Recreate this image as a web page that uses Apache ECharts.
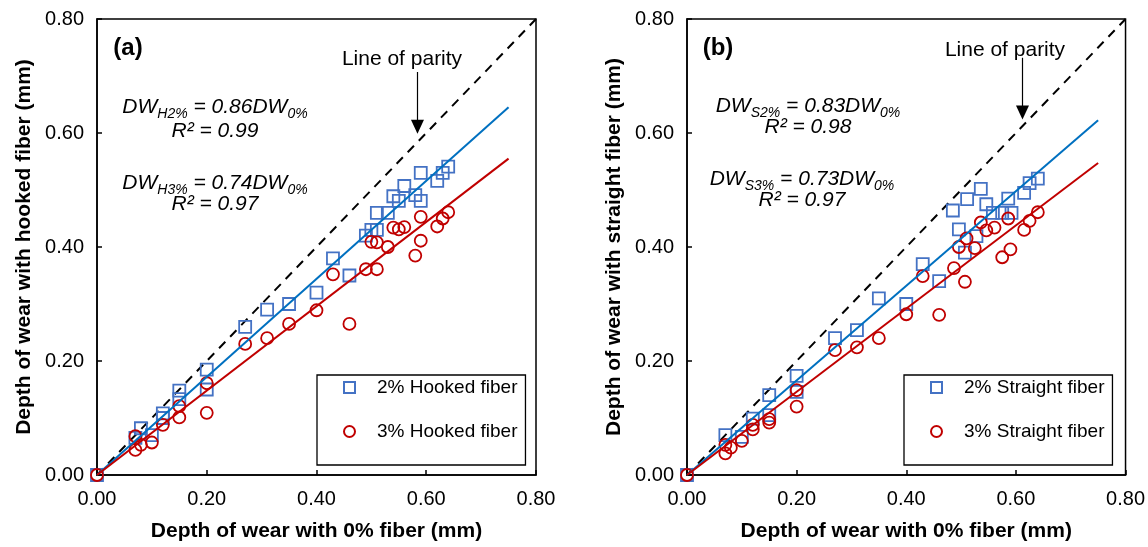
<!DOCTYPE html>
<html>
<head>
<meta charset="utf-8">
<script src="https://cdn.jsdelivr.net/npm/echarts@6/dist/echarts.min.js"></script>
<style>
html,body{margin:0;padding:0;background:#fff;}
#chart{width:1148px;height:547px;}
</style>
</head>
<body>
<div id="chart"></div>
<script>
// ---------- DATA ----------
var axisTicks = [0, 0.2, 0.4, 0.6, 0.8];

// Panel (a): hooked fiber
var hook2X = [0, 0.07, 0.08, 0.10, 0.12, 0.12, 0.15, 0.15, 0.20, 0.20, 0.27, 0.31, 0.35, 0.40, 0.43, 0.46, 0.49, 0.50, 0.51, 0.51, 0.53, 0.54, 0.55, 0.56, 0.58, 0.59, 0.59, 0.62, 0.63, 0.64];
var hook2Y = [0, 0.065, 0.082, 0.07, 0.10, 0.108, 0.133, 0.148, 0.15, 0.185, 0.26, 0.29, 0.30, 0.32, 0.38, 0.35, 0.42, 0.43, 0.43, 0.46, 0.46, 0.489, 0.481, 0.507, 0.491, 0.53, 0.481, 0.516, 0.53, 0.541];
var hook3X = [0, 0.07, 0.07, 0.08, 0.10, 0.12, 0.15, 0.15, 0.20, 0.20, 0.27, 0.31, 0.35, 0.40, 0.43, 0.46, 0.49, 0.50, 0.51, 0.51, 0.53, 0.54, 0.55, 0.56, 0.58, 0.59, 0.59, 0.62, 0.63, 0.64];
var hook3Y = [0, 0.068, 0.044, 0.053, 0.057, 0.088, 0.101, 0.121, 0.109, 0.161, 0.23, 0.24, 0.265, 0.289, 0.352, 0.265, 0.361, 0.409, 0.361, 0.408, 0.40, 0.434, 0.431, 0.435, 0.385, 0.453, 0.411, 0.436, 0.45, 0.461];

// Panel (b): straight fiber
var str2X = [0, 0.07, 0.10, 0.12, 0.15, 0.15, 0.20, 0.20, 0.27, 0.31, 0.35, 0.40, 0.43, 0.46, 0.485, 0.496, 0.507, 0.511, 0.528, 0.536, 0.546, 0.558, 0.575, 0.586, 0.592, 0.615, 0.625, 0.64];
var str2Y = [0, 0.07, 0.067, 0.099, 0.105, 0.14, 0.146, 0.174, 0.24, 0.254, 0.31, 0.30, 0.37, 0.34, 0.464, 0.431, 0.39, 0.484, 0.419, 0.502, 0.475, 0.46, 0.46, 0.485, 0.46, 0.495, 0.512, 0.52];
var str3X = [0, 0.07, 0.07, 0.08, 0.10, 0.12, 0.12, 0.15, 0.15, 0.20, 0.20, 0.27, 0.31, 0.35, 0.40, 0.43, 0.46, 0.487, 0.496, 0.507, 0.51, 0.525, 0.536, 0.546, 0.561, 0.575, 0.586, 0.59, 0.615, 0.625, 0.64];
var str3Y = [0, 0.053, 0.038, 0.048, 0.06, 0.08, 0.088, 0.092, 0.098, 0.12, 0.149, 0.219, 0.224, 0.24, 0.282, 0.349, 0.281, 0.363, 0.40, 0.339, 0.415, 0.398, 0.443, 0.429, 0.434, 0.382, 0.45, 0.396, 0.43, 0.446, 0.461];

// Fit lines (end points) and parity line
var fitX = [0, 0.75];
var fitH2 = [0, 0.645];
var fitH3 = [0, 0.555];
var fitS2 = [0, 0.6225];
var fitS3 = [0, 0.5475];
var parityX = [0, 0.8];
var parityY = [0, 0.8];

var seriesNames = ['2% Hooked fiber', '3% Hooked fiber', '2% Straight fiber', '3% Straight fiber'];

// ---------- HELPERS ----------
function pairs(xs, ys) { return xs.map(function (x, i) { return [x, ys[i]]; }); }
var FONT = 'Liberation Sans, Arial, Helvetica, sans-serif';
var BLUE_M = '#4472C4', BLUE_L = '#0070C0', RED = '#C00000';

function makeX(idx) {
  return {
    gridIndex: idx, type: 'value', min: 0, max: 0.8, interval: 0.2,
    name: 'Depth of wear with 0% fiber (mm)', nameLocation: 'middle', nameGap: 46,
    nameTextStyle: { fontFamily: FONT, fontWeight: 'bold', fontSize: 21, color: '#000' },
    axisLine: { show: true, onZero: false, lineStyle: { color: '#000', width: 1.5 } },
    axisTick: { show: true, inside: true, length: 5, lineStyle: { color: '#000', width: 1.5 } },
    axisLabel: { fontFamily: FONT, fontSize: 20, color: '#000', margin: 14, formatter: function (v) { return v.toFixed(2); } },
    splitLine: { show: false }
  };
}
function makeY(idx, name) {
  return {
    gridIndex: idx, type: 'value', min: 0, max: 0.8, interval: 0.2,
    name: name, nameLocation: 'middle', nameGap: 62,
    nameTextStyle: { fontFamily: FONT, fontWeight: 'bold', fontSize: 21, color: '#000' },
    axisLine: { show: true, onZero: false, lineStyle: { color: '#000', width: 1.5 } },
    axisTick: { show: true, inside: true, length: 5, lineStyle: { color: '#000', width: 1.5 } },
    axisLabel: { fontFamily: FONT, fontSize: 20, color: '#000', margin: 13, formatter: function (v) { return v.toFixed(2); } },
    splitLine: { show: false }
  };
}
function scatter(name, idx, xs, ys, symbol, color) {
  return {
    name: name, type: 'scatter', xAxisIndex: idx, yAxisIndex: idx,
    data: pairs(xs, ys), symbol: symbol, symbolSize: 12, z: 3,
    itemStyle: { color: 'rgba(255,255,255,0)', borderColor: color, borderWidth: 1.8, opacity: 1 },
    emphasis: { disabled: true }
  };
}
function fitLine(idx, ys, color) {
  return {
    type: 'line', xAxisIndex: idx, yAxisIndex: idx, data: pairs(fitX, ys),
    showSymbol: false, symbol: 'none', z: 4, silent: true,
    lineStyle: { color: color, width: 2 }
  };
}
function parity(idx, ax, ay0, ay1) {
  return {
    type: 'line', xAxisIndex: idx, yAxisIndex: idx, data: pairs(parityX, parityY),
    showSymbol: false, symbol: 'none', z: 2, silent: true,
    lineStyle: { color: '#000', width: 2, type: [9, 7] },
    markLine: {
      silent: true, animation: false, symbol: ['none', 'triangle'], symbolSize: [13, 14],
      label: { show: false },
      lineStyle: { color: '#000', width: 1.2, type: 'solid' },
      data: [[{ coord: [ax, ay0] }, { coord: [ax, ay1] }]]
    }
  };
}
function legend(left, names) {
  return {
    left: left, top: 375, orient: 'vertical', data: names,
    itemWidth: 11, itemHeight: 11, itemGap: 25,
    padding: [3, 8, 24, 26],
    borderColor: '#000', borderWidth: 1.3, backgroundColor: '#fff',
    textStyle: { fontFamily: FONT, fontSize: 19, color: '#000', padding: [0, 0, 0, 17] },
    selectedMode: false
  };
}
function eqText(x, y, sub1, coef) {
  return {
    type: 'text', x: x, y: y, z: 10,
    style: {
      text: '{i|DW}{s|' + sub1 + '}{i| = ' + coef + 'DW}{s|0%}',
      align: 'center', verticalAlign: 'middle',
      rich: {
        i: { fontFamily: FONT, fontStyle: 'italic', fontSize: 21, lineHeight: 28, verticalAlign: 'middle', fill: '#000' },
        s: { fontFamily: FONT, fontStyle: 'italic', fontSize: 14, lineHeight: 14, verticalAlign: 'bottom', fill: '#000' }
      }
    }
  };
}
function plainText(x, y, txt, size, weight, italic) {
  return {
    type: 'text', x: x, y: y, z: 10,
    style: { text: txt, align: 'center', verticalAlign: 'middle', fontFamily: FONT, fontSize: size,
             fontWeight: weight || 'normal', fontStyle: italic ? 'italic' : 'normal', fill: '#000' }
  };
}

var chart = echarts.init(document.getElementById('chart'), null, { renderer: 'canvas' });
chart.setOption({
  animation: false,
  backgroundColor: '#fff',
  grid: [
    { left: 97, top: 19, width: 439, height: 456, show: true, borderColor: '#000', borderWidth: 1.5, backgroundColor: 'transparent' },
    { left: 687, top: 19, width: 439, height: 456, show: true, borderColor: '#000', borderWidth: 1.5, backgroundColor: 'transparent' }
  ],
  xAxis: [makeX(0), makeX(1)],
  yAxis: [makeY(0, 'Depth of wear with hooked fiber (mm)'), makeY(1, 'Depth of wear with straight fiber (mm)')],
  legend: [legend(317, [seriesNames[0], seriesNames[1]]), legend(904, [seriesNames[2], seriesNames[3]])],
  series: [
    parity(0, 0.584, 0.707, 0.611),
    parity(1, 0.612, 0.732, 0.636),
    scatter(seriesNames[0], 0, hook2X, hook2Y, 'rect', BLUE_M),
    scatter(seriesNames[1], 0, hook3X, hook3Y, 'circle', RED),
    scatter(seriesNames[2], 1, str2X, str2Y, 'rect', BLUE_M),
    scatter(seriesNames[3], 1, str3X, str3Y, 'circle', RED),
    fitLine(0, fitH2, BLUE_L),
    fitLine(0, fitH3, RED),
    fitLine(1, fitS2, BLUE_L),
    fitLine(1, fitS3, RED)
  ],
  graphic: [
    plainText(128, 48, '(a)', 24, 'bold'),
    plainText(718, 48, '(b)', 24, 'bold'),
    plainText(402, 59, 'Line of parity', 21),
    plainText(1005, 50, 'Line of parity', 21),
    eqText(215, 107, 'H2%', '0.86'),
    plainText(215, 131, 'R² = 0.99', 21, 'normal', true),
    eqText(215, 183, 'H3%', '0.74'),
    plainText(215, 204, 'R² = 0.97', 21, 'normal', true),
    eqText(808, 106, 'S2%', '0.83'),
    plainText(808, 127, 'R² = 0.98', 21, 'normal', true),
    eqText(802, 179, 'S3%', '0.73'),
    plainText(802, 200, 'R² = 0.97', 21, 'normal', true)
  ]
});
</script>
</body>
</html>
